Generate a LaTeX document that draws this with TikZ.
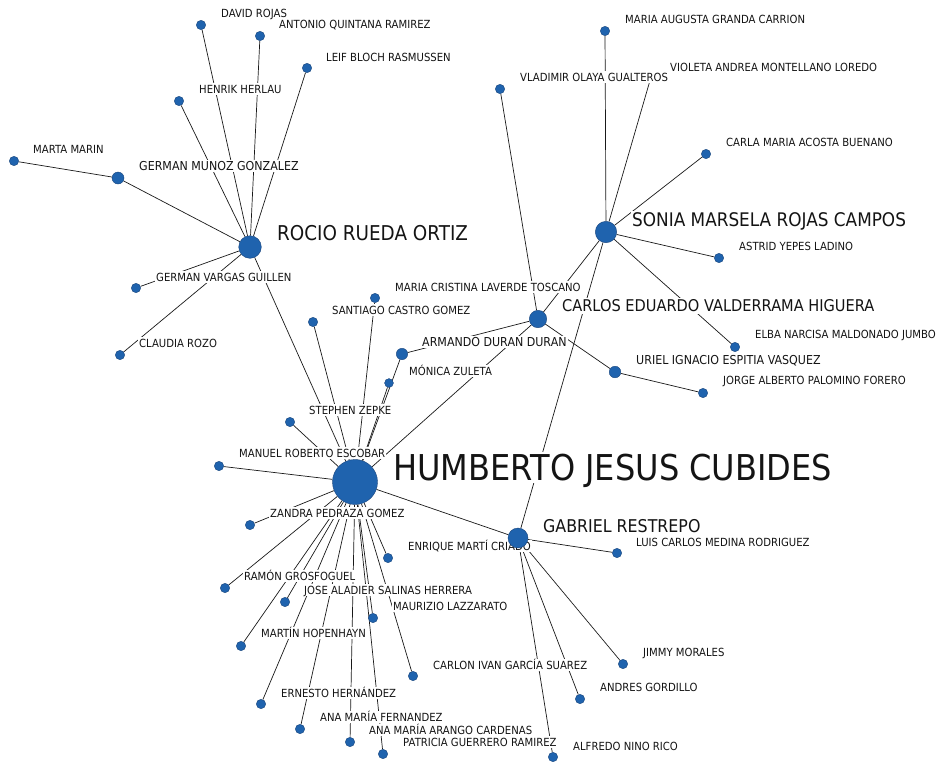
\documentclass[tikz,border=0pt]{standalone}
\usepackage{fontspec}
\newfontfamily\labfont[FakeStretch=0.9]{DejaVu Sans}
\pgfdeclarelayer{paper}
\pgfdeclarelayer{edges}
\pgfdeclarelayer{front}
\pgfsetlayers{paper,edges,main,front}
\definecolor{nodeblue}{RGB}{31,99,174}
\definecolor{nodeline}{RGB}{24,68,124}
\begin{document}
\begin{tikzpicture}[x=1pt,y=-1pt,
  vert/.style={circle,fill=nodeblue,draw=nodeline,line width=0.4pt,inner sep=0pt,minimum size=#1},
  vert/.default=9.4pt,
  link/.style={draw=black!90,line width=0.7pt},
  tag/.style={anchor=west,fill=white,inner xsep=1pt,inner ysep=1.7pt,text depth=0pt,text=black!92},
  tagS/.style={tag,font=\labfont\fontsize{11.2}{12}\selectfont,text height=8.1pt},
  tagM/.style={tag,font=\labfont\fontsize{12.3}{13}\selectfont,text height=9pt},
  tagC/.style={tag,font=\labfont\fontsize{16.2}{17}\selectfont,text height=11.8pt},
  tagG/.style={tag,font=\labfont\fontsize{17.6}{19}\selectfont,text height=12.8pt},
  tagSo/.style={tag,font=\labfont\fontsize{18.75}{20}\selectfont,text height=13.7pt},
  tagR/.style={tag,font=\labfont\fontsize{20.4}{22}\selectfont,text height=14.9pt},
  tagH/.style={tag,font=\labfont\fontsize{35.6}{38}\selectfont,text height=26pt,inner ysep=2.5pt}
]
\begin{pgfonlayer}{paper}
\fill[white] (0,0) rectangle (939,761);
\end{pgfonlayer}
\useasboundingbox (0,0) rectangle (939,761);

% ---- vertices ----
\node[vert=45pt] (humberto) at (355,482) {};
\node[vert=22.6pt] (rocio) at (250,247) {};
\node[vert=21.4pt] (sonia) at (606,232) {};
\node[vert=17.4pt] (carlos) at (538,319) {};
\node[vert=12pt] (gmunoz) at (118,178) {};
\node[vert=11.4pt] (armando) at (402,354) {};
\node[vert=11.6pt] (uriel) at (615,372) {};
\node[vert] (david) at (201,25) {};
\node[vert] (antonio) at (260,36) {};
\node[vert] (leif) at (307,68) {};
\node[vert] (henrik) at (179,101) {};
\node[vert] (marta) at (14,161) {};
\node[vert] (gvargas) at (136,288) {};
\node[vert] (claudia) at (120,355) {};
\node[vert] (mcristina) at (375,298) {};
\node[vert] (santiago) at (313,322) {};
\node[vert=8.8pt] (monica) at (389,383) {};
\node[vert] (stephen) at (290,422) {};
\node[vert] (manuel) at (219,466) {};
\node[vert] (zandra) at (250,525) {};
\node[vert] (enrique) at (388,558) {};
\node[vert] (ramon) at (225,588) {};
\node[vert] (jose) at (285,602) {};
\node[vert] (maurizio) at (373,618) {};
\node[vert] (martin) at (241,646) {};
\node[vert] (carlon) at (413,676) {};
\node[vert] (ernesto) at (261,704) {};
\node[vert] (anamf) at (300,729) {};
\node[vert] (anama) at (350,742) {};
\node[vert] (patricia) at (383,754) {};
\node[vert] (alfredo) at (553,757) {};
\node[vert] (luis) at (617,553) {};
\node[vert] (jimmy) at (623,664) {};
\node[vert] (andres) at (580,699) {};
\node[vert] (maugusta) at (605,31) {};
\node[vert] (violeta) at (651,77) {};
\node[vert] (vladimir) at (500,89) {};
\node[vert] (carla) at (706,154) {};
\node[vert] (astrid) at (719,258) {};
\node[vert] (elba) at (735,347) {};
\node[vert] (jorge) at (703,393) {};
\begin{pgfonlayer}{front}
\node[vert=20pt] (gabriel) at (518,538) {};
\end{pgfonlayer}

% ---- connections ----
\begin{pgfonlayer}{edges}
\foreach \v in {david,antonio,leif,henrik,gmunoz,gvargas,claudia,humberto}
  \draw[link] (rocio) -- (\v);
\draw[link] (gmunoz) -- (marta);
\foreach \v in {carlos,gabriel,armando,monica,mcristina,santiago,stephen,manuel,
  zandra,enrique,ramon,jose,martin,ernesto,anamf,anama,patricia,maurizio,carlon}
  \draw[link] (humberto) -- (\v);
\foreach \v in {sonia,vladimir,uriel,armando}
  \draw[link] (carlos) -- (\v);
\draw[link] (uriel) -- (jorge);
\foreach \v in {maugusta,violeta,carla,astrid,elba,gabriel}
  \draw[link] (sonia) -- (\v);
\foreach \v in {luis,jimmy,andres,alfredo}
  \draw[link] (gabriel) -- (\v);
\end{pgfonlayer}

% ---- labels ----
\node[tagS] (t-david) at (220,13) {DAVID ROJAS};
\node[tagS] (t-antonio) at (278,24) {ANTONIO QUINTANA RAMIREZ};
\node[tagS] (t-leif) at (325,57) {LEIF BLOCH RASMUSSEN};
\node[tagS] (t-henrik) at (198,89) {HENRIK HERLAU};
\node[tagS] (t-marta) at (32,149) {MARTA MARIN};
\node[tagM] (t-gmunoz) at (138,166) {GERMAN MUNOZ GONZALEZ};
\node[tagR] (t-rocio) at (276,233) {ROCIO RUEDA ORTIZ};
\node[tagS] (t-gvargas) at (155,277) {GERMAN VARGAS GUILLEN};
\node[tagS] (t-claudia) at (138,343) {CLAUDIA ROZO};
\node[tagS] (t-mcristina) at (394,287) {MARIA CRISTINA LAVERDE TOSCANO};
\node[tagS] (t-santiago) at (331,310) {SANTIAGO CASTRO GOMEZ};
\node[tagM] (t-armando) at (421,342) {ARMANDO DURAN DURAN};
\node[tagS] (t-monica) at (408,371) {MÓNICA ZULETA};
\node[tagS] (t-stephen) at (308,410) {STEPHEN ZEPKE};
\node[tagS] (t-manuel) at (238,453) {MANUEL ROBERTO ESCOBAR};
\node[tagH] (t-humberto) at (392,467) {HUMBERTO JESUS CUBIDES};
\node[tagS] (t-zandra) at (269,513) {ZANDRA PEDRAZA GOMEZ};
\node[tagS] (t-enrique) at (407,546) {ENRIQUE MARTÍ CRIADO};
\node[tagS] (t-ramon) at (243,576) {RAMÓN GROSFOGUEL};
\node[tagS] (t-jose) at (303,590) {JOSE ALADIER SALINAS HERRERA};
\node[tagS] (t-maurizio) at (392,606) {MAURIZIO LAZZARATO};
\node[tagS] (t-martin) at (260,633) {MARTÍN HOPENHAYN};
\node[tagS] (t-carlon) at (432,665) {CARLON IVAN GARCÍA SUAREZ};
\node[tagS] (t-ernesto) at (280,693) {ERNESTO HERNÁNDEZ};
\node[tagS] (t-anamf) at (319,717) {ANA MARÍA FERNANDEZ};
\node[tagS] (t-anama) at (368,730) {ANA MARÍA ARANGO CARDENAS};
\node[tagS] (t-patricia) at (402,742) {PATRICIA GUERRERO RAMIREZ};
\node[tagS] (t-alfredo) at (572,746) {ALFREDO NINO RICO};
\node[tagG] (t-gabriel) at (542,526) {GABRIEL RESTREPO};
\node[tagS] (t-luis) at (635,542) {LUIS CARLOS MEDINA RODRIGUEZ};
\node[tagS] (t-jimmy) at (642,652) {JIMMY MORALES};
\node[tagS] (t-andres) at (599,687) {ANDRES GORDILLO};
\node[tagS] (t-maugusta) at (624,19) {MARIA AUGUSTA GRANDA CARRION};
\node[tagS] (t-violeta) at (669,67) {VIOLETA ANDREA MONTELLANO LOREDO};
\node[tagS] (t-vladimir) at (519,77) {VLADIMIR OLAYA GUALTEROS};
\node[tagS] (t-carla) at (725,142) {CARLA MARIA ACOSTA BUENANO};
\node[tagSo] (t-sonia) at (631,220) {SONIA MARSELA ROJAS CAMPOS};
\node[tagS] (t-astrid) at (738,246) {ASTRID YEPES LADINO};
\node[tagC] (t-carlos) at (561,306) {CARLOS EDUARDO VALDERRAMA HIGUERA};
\node[tagS] (t-elba) at (754,334) {ELBA NARCISA MALDONADO JUMBO};
\node[tagM] (t-uriel) at (635,360) {URIEL IGNACIO ESPITIA VASQUEZ};
\node[tagS] (t-jorge) at (722,380) {JORGE ALBERTO PALOMINO FORERO};
\end{tikzpicture}
\end{document}
